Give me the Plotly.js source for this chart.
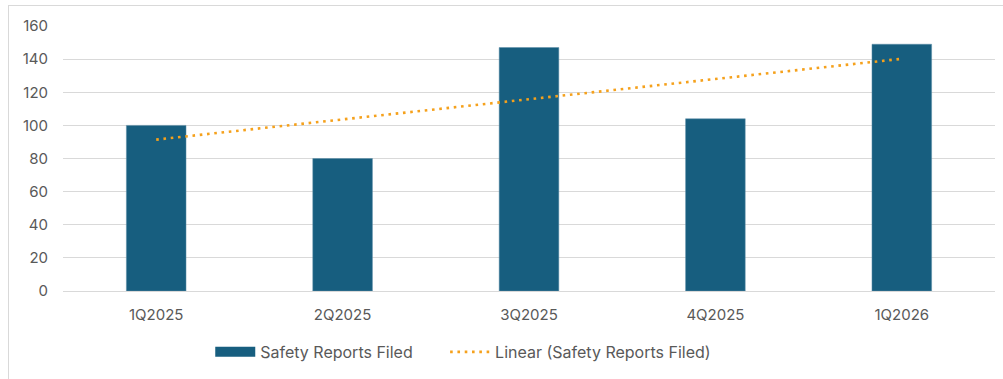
<!DOCTYPE html>
<html>
<head>
<meta charset="utf-8">
<script src="https://cdn.plot.ly/plotly-3.0.1.min.js"></script>
<style>
html,body{margin:0;padding:0;background:#fff;overflow:hidden;}
#chart{width:1003px;height:379px;position:absolute;left:0;top:0;}
#frame{position:absolute;left:8px;top:5px;width:1000px;height:380px;border:1px solid #d9d9d9;pointer-events:none;}
</style>
</head>
<body>
<div id="chart"></div>
<div id="frame"></div>
<script>
const categories = ['1Q2025', '2Q2025', '3Q2025', '4Q2025', '1Q2026'];
const reportsFiled = [100, 80, 147, 104, 149];
const trendCategories = ['1Q2025', '1Q2026'];
const trendValues = [91.4, 140.2];
const yTicks = [0, 20, 40, 60, 80, 100, 120, 140, 160];
const seriesName = 'Safety Reports Filed';
const trendName = 'Linear (Safety Reports Filed)';

const barColor = '#175e7f';
const font = {family: 'Inter, "Open Sans", Roboto, sans-serif', size: 15, color: '#595959'};
const legendFont = {family: font.family, size: 16, color: '#595959'};

const traces = [
  {
    type: 'bar',
    name: seriesName,
    x: categories,
    y: reportsFiled,
    marker: {color: barColor, line: {color: '#5f8fa8', width: 0.5}},
    showlegend: false
  },
  {
    // legend-only entry giving the wide rectangular swatch of the bar series
    type: 'scatter',
    mode: 'lines',
    name: seriesName,
    x: [categories[0], categories[1]],
    y: [null, null],
    line: {color: barColor, width: 10},
    showlegend: true,
    legend: 'legend'
  },
  {
    type: 'scatter',
    mode: 'lines',
    name: trendName,
    x: trendCategories,
    y: trendValues,
    line: {color: '#f5a11c', width: 2.6, dash: '2.6px,4.7px'},
    showlegend: true,
    legend: 'legend2'
  }
];

const layout = {
  width: 1003,
  height: 379,
  margin: {l: 63, r: 8, t: 26, b: 88},
  paper_bgcolor: '#ffffff',
  plot_bgcolor: '#ffffff',
  font: font,
  bargap: 0.68,
  showlegend: true,
  legend: {
    orientation: 'h',
    x: 0.158, xanchor: 'left',
    y: -0.23, yanchor: 'middle',
    font: legendFont,
    itemwidth: 40
  },
  legend2: {
    orientation: 'h',
    x: 0.410, xanchor: 'left',
    y: -0.23, yanchor: 'middle',
    font: legendFont,
    itemwidth: 40
  },
  xaxis: {
    type: 'category',
    categoryorder: 'array',
    categoryarray: categories,
    showgrid: false,
    showline: true,
    linecolor: '#d9d9d9',
    linewidth: 1,
    ticks: '',
    ticklabelstandoff: 10,
    tickfont: font,
    fixedrange: true
  },
  yaxis: {
    range: [0, 160],
    tickvals: yTicks,
    showgrid: true,
    gridcolor: '#d9d9d9',
    gridwidth: 1,
    zeroline: false,
    showline: false,
    ticks: '',
    ticklabelstandoff: 14,
    tickfont: font,
    fixedrange: true
  }
};

Plotly.newPlot('chart', traces, layout, {displayModeBar: false, staticPlot: true});
</script>
</body>
</html>
